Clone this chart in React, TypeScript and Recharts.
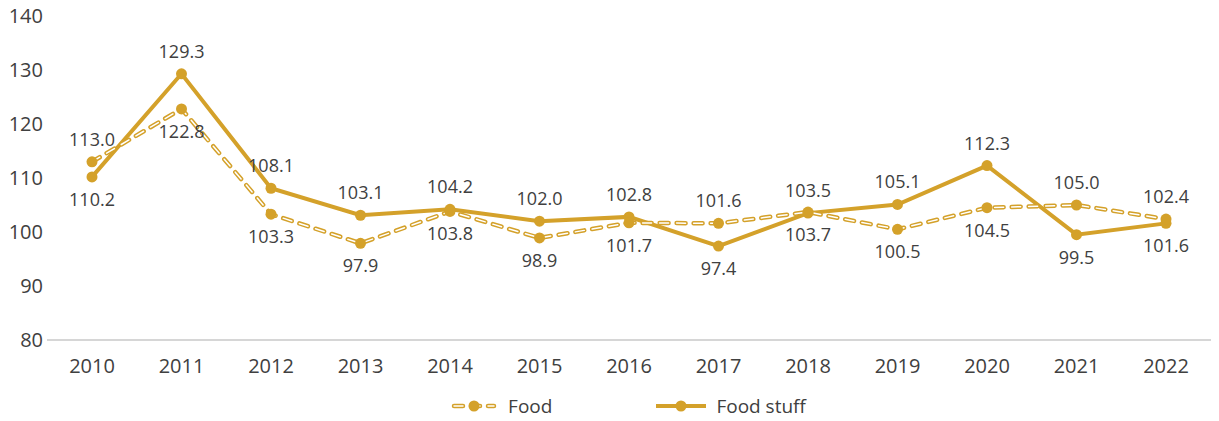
import React from "react";
import { LineChart, Line, XAxis, YAxis, Legend, LabelList } from "recharts";

// Dữ liệu
const years = ["2010", "2011", "2012", "2013", "2014", "2015", "2016", "2017", "2018", "2019", "2020", "2021", "2022"];
const food = [113.0, 122.8, 103.3, 97.9, 103.8, 98.9, 101.7, 101.6, 103.7, 100.5, 104.5, 105.0, 102.4];
const foodStuff = [110.2, 129.3, 108.1, 103.1, 104.2, 102.0, 102.8, 97.4, 103.5, 105.1, 112.3, 99.5, 101.6];
const yTicks = [80, 90, 100, 110, 120, 130, 140];

const GOLD = "#D4A12A";
const TEXT = "#404040";
const FONT = "'Open Sans', sans-serif";

const data = years.map((year, i) => ({ year, food: food[i], foodStuff: foodStuff[i] }));

// nhãn Food nằm trên khi Food cao hơn rõ rệt, còn lại nằm dưới
const foodOnTop = (i: number) => food[i] - foodStuff[i] > 0.5;

function makeLabel(series: "food" | "stuff") {
  return (props: any) => {
    const { x, y, value, index } = props;
    const above = series === "food" ? foodOnTop(index) : !foodOnTop(index);
    return (
      <text
        x={x}
        y={above ? y - 16 : y + 29}
        textAnchor="middle"
        fill={TEXT}
        fontSize={18}
        fontFamily={FONT}
      >
        {Number(value).toFixed(1)}
      </text>
    );
  };
}

function LegendContent() {
  return (
    <div
      style={{
        height: 41,
        boxSizing: "border-box",
        paddingTop: 14,
        paddingLeft: 46,
        display: "flex",
        justifyContent: "center",
        alignItems: "flex-start",
        fontFamily: FONT,
        fontSize: 19,
        color: TEXT,
      }}
    >
      <div style={{ display: "flex", alignItems: "center", height: 24 }}>
        <svg width={46} height={14}>
          <line x1={3} y1={7} x2={43} y2={7} stroke={GOLD} strokeWidth={4.5} strokeLinecap="round" strokeDasharray="9 8" />
          <line x1={3} y1={7} x2={43} y2={7} stroke="#fff" strokeWidth={1.5} strokeLinecap="round" strokeDasharray="9 8" />
          <circle cx={23} cy={7} r={5.5} fill={GOLD} />
        </svg>
        <span style={{ marginLeft: 11 }}>Food</span>
      </div>
      <div style={{ display: "flex", alignItems: "center", height: 24, marginLeft: 104 }}>
        <svg width={50} height={14}>
          <line x1={0} y1={7} x2={50} y2={7} stroke={GOLD} strokeWidth={4} />
          <circle cx={25} cy={7} r={5.5} fill={GOLD} />
        </svg>
        <span style={{ marginLeft: 10 }}>Food stuff</span>
      </div>
    </div>
  );
}

export default function App() {
  return (
    <div style={{ position: "absolute", left: 0, top: 0, background: "#fff", fontFamily: FONT }}>
      <LineChart width={1219} height={421} data={data} margin={{ top: 16, right: 8, bottom: 0, left: 0 }}>
        <XAxis
          dataKey="year"
          padding={{ left: 45, right: 45 }}
          axisLine={{ stroke: "#c8c8c8", strokeWidth: 1.5 }}
          tickLine={false}
          tickSize={0}
          tickMargin={19}
          height={40}
          tick={{ fill: TEXT, fontSize: 20, fontFamily: FONT }}
        />
        <YAxis
          domain={[80, 140]}
          ticks={yTicks}
          axisLine={false}
          tickLine={false}
          tickSize={0}
          tickMargin={4}
          width={47}
          tick={{ fill: TEXT, fontSize: 20, fontFamily: FONT }}
        />
        <Legend verticalAlign="bottom" content={() => <LegendContent />} />

        {/* Food stuff - đường liền */}
        <Line
          dataKey="foodStuff"
          name="Food stuff"
          type="linear"
          stroke={GOLD}
          strokeWidth={4}
          dot={{ r: 5.5, fill: GOLD, stroke: GOLD, strokeWidth: 0 }}
          activeDot={false}
          isAnimationActive={false}
        >
          <LabelList dataKey="foodStuff" content={makeLabel("stuff")} />
        </Line>

        {/* Food - nét đứt viền vàng lõi trắng */}
        <Line
          dataKey="food"
          name="Food"
          type="linear"
          stroke={GOLD}
          strokeWidth={4.5}
          strokeLinecap="round"
          strokeDasharray="9 8"
          dot={false}
          activeDot={false}
          legendType="none"
          isAnimationActive={false}
        />
        <Line
          dataKey="food"
          name="Food"
          type="linear"
          stroke="#fff"
          strokeWidth={1.5}
          strokeLinecap="round"
          strokeDasharray="9 8"
          dot={{ r: 5.5, fill: GOLD, stroke: GOLD, strokeWidth: 0 }}
          activeDot={false}
          isAnimationActive={false}
        >
          <LabelList dataKey="food" content={makeLabel("food")} />
        </Line>
      </LineChart>
    </div>
  );
}
